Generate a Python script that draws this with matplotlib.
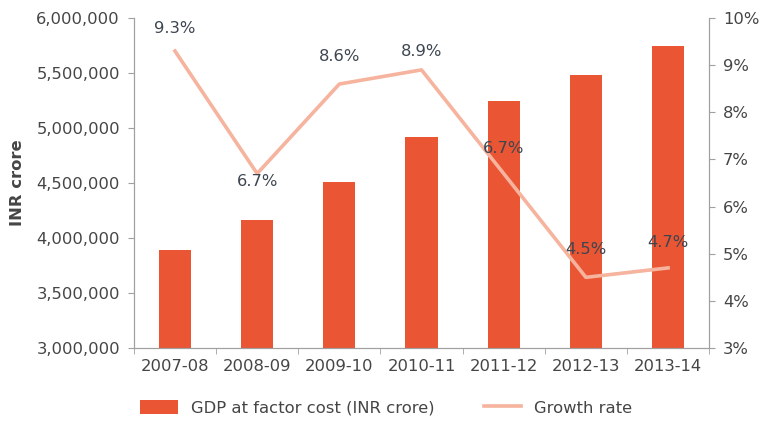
import matplotlib
matplotlib.use("Agg")
import matplotlib.pyplot as plt
from matplotlib.ticker import FuncFormatter, FixedLocator
import numpy as np

categories = ["2007-08", "2008-09", "2009-10", "2010-11", "2011-12", "2012-13", "2013-14"]
gdp = [3890000, 4164000, 4509000, 4918000, 5245000, 5480000, 5745000]
growth = [9.3, 6.7, 8.6, 8.9, 6.7, 4.5, 4.7]
growth_labels = ["9.3%", "6.7%", "8.6%", "8.9%", "6.7%", "4.5%", "4.7%"]
label_offsets = [(0, 16), (0, -6), (0, 20), (0, 13), (0, 18), (0, 20), (0, 18)]

bar_color = "#ea5533"
line_color = "#f6b39e"
text_color = "#454545"
spine_color = "#a0a0a0"

plt.rcParams["font.family"] = ["DejaVu Sans"]
FS = 11.8

fig = plt.figure(figsize=(7.65, 4.34), dpi=100)
ax = fig.add_axes([0.175, 0.198, 0.752, 0.7605])
x = np.arange(len(categories))
bars = ax.bar(x, gdp, width=0.39, color=bar_color, zorder=2,
              label="GDP at factor cost (INR crore)")
ax.set_xlim(-0.5, len(categories) - 0.5)
ax.set_ylim(3000000, 6000000)
ax.set_yticks(np.arange(3000000, 6000001, 500000))
ax.yaxis.set_major_formatter(FuncFormatter(lambda v, p: f"{int(v):,}"))
ax.set_xticks(x)
ax.set_xticklabels(categories)
ax.xaxis.set_minor_locator(FixedLocator(np.arange(-0.5, len(categories), 1)))
ax.tick_params(axis="x", which="major", length=0, pad=8, labelsize=FS, labelcolor=text_color)
ax.tick_params(axis="x", which="minor", length=4, color=spine_color, direction="out")
ax.tick_params(axis="y", length=4, color=spine_color, labelsize=FS, labelcolor=text_color, pad=6)
ax.set_ylabel("INR crore", fontsize=FS, fontweight="bold", color=text_color, labelpad=8)
ax.spines["top"].set_visible(False)
for s in ["left", "bottom", "right"]:
    ax.spines[s].set_color(spine_color)

ax2 = ax.twinx()
line, = ax2.plot(x, growth, color=line_color, linewidth=2.6, zorder=3, label="Growth rate")
ax2.set_ylim(3, 10)
ax2.set_yticks(np.arange(3, 11, 1))
ax2.yaxis.set_major_formatter(FuncFormatter(lambda v, p: f"{int(v)}%"))
ax2.tick_params(axis="y", length=4, color=spine_color, labelsize=FS, labelcolor=text_color, pad=6)
ax2.spines["top"].set_visible(False)
for s in ["left", "bottom", "right"]:
    ax2.spines[s].set_color(spine_color)

for xi, g, lab, off in zip(x, growth, growth_labels, label_offsets):
    ax2.annotate(lab, (xi, g), xytext=off, textcoords="offset points",
                 ha="center", va="center", fontsize=FS, color="#3d4650", zorder=4)

fig.legend([bars, line], ["GDP at factor cost (INR crore)", "Growth rate"],
           loc="center", bbox_to_anchor=(0.505, 0.06), ncol=2, frameon=False,
           fontsize=FS, labelcolor=text_color, handlelength=2.3, handleheight=0.9,
           columnspacing=3.0, handletextpad=0.8)

fig.savefig("out.png", dpi=100)
